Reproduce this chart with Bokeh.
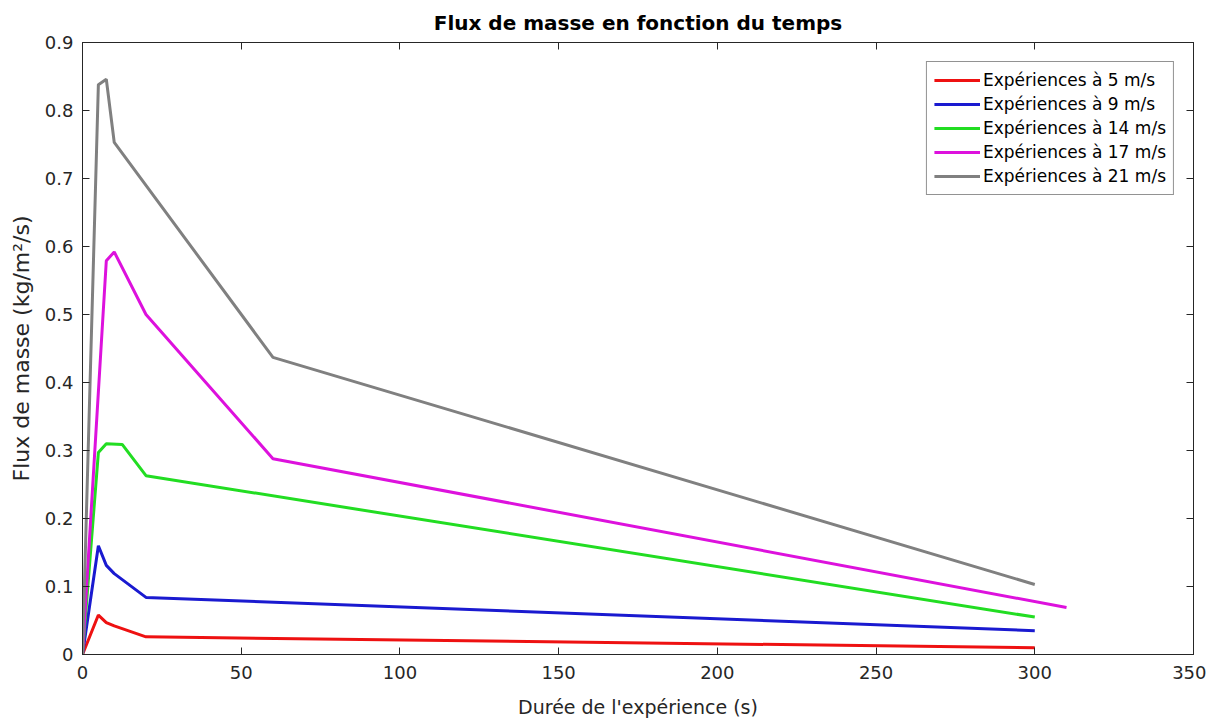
from bokeh.plotting import figure
from bokeh.models import LinearAxis, Range1d, Legend, LegendItem, FixedTicker
from bokeh.embed import file_html
from bokeh.resources import INLINE

# Data
t_5 = [0, 5, 7.5, 10, 20, 300]
f_5 = [0, 0.058, 0.047, 0.042, 0.026, 0.010]
t_9 = [0, 5, 7.5, 10, 20, 300]
f_9 = [0, 0.160, 0.131, 0.119, 0.084, 0.035]
t_14 = [0, 5, 7.5, 12.5, 20, 300]
f_14 = [0, 0.297, 0.310, 0.309, 0.263, 0.055]
t_17 = [0, 7.5, 10, 20, 60, 310]
f_17 = [0, 0.579, 0.592, 0.500, 0.288, 0.069]
t_21 = [0, 5, 7.5, 10, 60, 300]
f_21 = [0, 0.838, 0.846, 0.753, 0.437, 0.103]

labels = ["Expériences à 5 m/s", "Expériences à 9 m/s", "Expériences à 14 m/s",
          "Expériences à 17 m/s", "Expériences à 21 m/s"]
colors = ["#ee1111", "#1a1ad0", "#22dd22", "#dd11dd", "#808080"]

x_ticks = [0, 50, 100, 150, 200, 250, 300, 350]
y_ticks = [0, 0.1, 0.2, 0.3, 0.4, 0.5, 0.6, 0.7, 0.8, 0.9]

FONT = "DejaVu Sans"
AX = "#262626"

p = figure(width=1206, height=720, output_backend="svg", toolbar_location=None,
           x_range=Range1d(0, 350), y_range=Range1d(0, 0.9),
           min_border_left=82, min_border_right=13, min_border_top=42, min_border_bottom=66)

p.title.text = "Flux de masse en fonction du temps"
p.title.align = "center"
p.title.text_font = FONT
p.title.text_font_size = "20px"
p.title.text_font_style = "bold"
p.title.text_color = "#000000"
p.title.standoff = 16

p.xgrid.visible = False
p.ygrid.visible = False
p.outline_line_color = AX
p.outline_line_width = 1

for ax, ticks in ((p.xaxis[0], x_ticks), (p.yaxis[0], y_ticks)):
    ax.ticker = FixedTicker(ticks=ticks)
    ax.major_tick_in = 7
    ax.major_tick_out = 0
    ax.minor_tick_line_color = None
    ax.axis_line_color = AX
    ax.major_tick_line_color = AX
    ax.major_label_text_font = FONT
    ax.major_label_text_font_size = "18px"
    ax.major_label_text_color = AX
    ax.axis_label_text_font = FONT
    ax.axis_label_text_font_style = "normal"
    ax.axis_label_text_color = AX

p.xaxis.axis_label = "Durée de l'expérience (s)"
p.xaxis.axis_label_text_font_size = "19px"
p.xaxis.major_label_standoff = 11
p.xaxis.axis_label_standoff = 14
p.yaxis.axis_label = "Flux de masse (kg/m²/s)"
p.yaxis.axis_label_text_font_size = "22px"
p.yaxis.major_label_standoff = 9
p.yaxis.axis_label_standoff = 8
p.yaxis.major_label_overrides = {0: "0"}

for side, ticks in (("above", x_ticks), ("right", y_ticks)):
    a = LinearAxis(ticker=FixedTicker(ticks=ticks))
    a.major_tick_in = 7
    a.major_tick_out = 0
    a.minor_tick_line_color = None
    a.axis_line_color = AX
    a.major_tick_line_color = AX
    a.major_label_overrides = {t: "" for t in ticks}
    a.major_label_text_color = None
    a.major_label_text_font_size = "1px"
    a.major_label_standoff = 0
    p.add_layout(a, side)

items = []
for t, f, c, lab in ((t_5, f_5, colors[0], labels[0]), (t_9, f_9, colors[1], labels[1]),
                     (t_14, f_14, colors[2], labels[2]), (t_17, f_17, colors[3], labels[3]),
                     (t_21, f_21, colors[4], labels[4])):
    r = p.line(t, f, line_color=c, line_width=3)
    items.append(LegendItem(label=lab, renderers=[r]))

legend = Legend(items=items, location="top_right")
legend.margin = 19
legend.padding = 7
legend.spacing = 2
legend.glyph_width = 46
legend.glyph_height = 22
legend.label_height = 22
legend.label_standoff = 3
legend.label_text_font = FONT
legend.label_text_font_size = "17px"
legend.label_text_color = "#000000"
legend.border_line_color = AX
legend.border_line_width = 1
legend.background_fill_color = "white"
legend.background_fill_alpha = 1
p.add_layout(legend, "center")

open("out.html", "w").write(file_html(p, INLINE))
